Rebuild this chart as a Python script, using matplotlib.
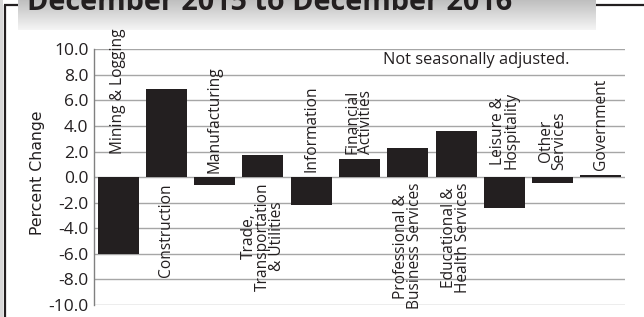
import numpy as np
import matplotlib
matplotlib.use("Agg")
import matplotlib.pyplot as plt
from matplotlib.colors import LinearSegmentedColormap

plt.rcParams['font.family'] = ['Open Sans', 'DejaVu Sans']
plt.rcParams['axes.unicode_minus'] = False

# ---- data ----
categories = ["Mining & Logging", "Construction", "Manufacturing",
              "Trade,\nTransportation\n& Utilities", "Information",
              "Financial\nActivities", "Professional &\nBusiness Services",
              "Educational &\nHealth Services", "Leisure &\nHospitality",
              "Other\nServices", "Government"]
values = [-6.0, 6.9, -0.6, 1.7, -2.2, 1.4, 2.3, 3.6, -2.45, -0.45, 0.2]
yticks = [-10, -8, -6, -4, -2, 0, 2, 4, 6, 8, 10]
title = "December 2015 to December 2016"
note = "Not seasonally adjusted."
ylabel = "Percent Change"

# label anchors (data y) and whether label hangs below (True) or sits above
label_y = [1.8, -0.45, 0.35, -0.4, 0.4, 1.8, -0.45, -0.45, 0.6, 0.55, 0.55]
label_below = [False, True, False, True, False, False, True, True, False, False, False]

W, H = 644, 317
fig = plt.figure(figsize=(W / 100, H / 100), dpi=100)

# background / frame axes in pixel coordinates
bg = fig.add_axes([0, 0, 1, 1], zorder=0)
bg.axis('off')
bg.add_patch(plt.Rectangle((0, 0), 3.5, H, color='#d8d8d8', lw=0))
bg.plot([5, 5], [5, H], color='#231f20', lw=1.6, solid_capstyle='butt')
bg.plot([4.2, 18], [5, 5], color='#231f20', lw=1.6, solid_capstyle='butt')
bg.plot([596, W], [5, 5], color='#231f20', lw=1.6, solid_capstyle='butt')
cmap = LinearSegmentedColormap.from_list('g', ['#bfbfbf', '#f5f5f5'])
grad = np.linspace(0, 1, 64).reshape(-1, 1)
bg.imshow(grad, cmap=cmap, extent=[18, 596, 30, 0], aspect='auto', zorder=1)
bg.set_xlim(0, W)
bg.set_ylim(H, 0)
t = bg.text(27, 10.5, title, fontsize=20, fontweight='bold', color='#231f20',
            va='baseline', ha='left', zorder=2)
fig.canvas.draw()
r = fig.canvas.get_renderer()
w = t.get_window_extent(r).width
t.set_fontsize(20 * 488 / w)

# main axes
ax = fig.add_axes([94 / W, (H - 305) / H, (625 - 94) / W, (305 - 49.3) / H], zorder=1)
ax.set_facecolor('none')
x = np.arange(len(values))
ax.set_axisbelow(True)
ax.yaxis.grid(True, color='#a6a6a6', lw=1.0)
ax.bar(x, values, width=0.85, color='#231f20', lw=0, zorder=3)
ax.set_xlim(-0.5, len(values) - 0.5)
ax.set_ylim(-10, 10)
ax.set_yticks(yticks)
ax.set_yticklabels([f"{v:.1f}" for v in yticks], fontsize=12.5, color='#231f20')
ax.tick_params(axis='y', length=0, pad=4)
ax.set_xticks([])
for s in ['top', 'right', 'bottom']:
    ax.spines[s].set_visible(False)
ax.spines['left'].set_color('#808080')
ax.spines['left'].set_linewidth(1.0)

ax.text(-0.1064, 0.518, ylabel, rotation=90, fontsize=11.3, color='#231f20',
        family=['DejaVu Sans'], ha='center', va='center', transform=ax.transAxes)

for i, (lab, ly, below) in enumerate(zip(categories, label_y, label_below)):
    ax.text(i, ly, lab, rotation=90, fontsize=11.2, color='#231f20',
            ha='center', va='top' if below else 'bottom',
            multialignment='center', linespacing=0.8, zorder=4)

ax.text(0.895, 0.99, note, transform=ax.transAxes, fontsize=11.8,
        color='#231f20', ha='right', va='top', zorder=4)

fig.savefig("out.png", dpi=100)
